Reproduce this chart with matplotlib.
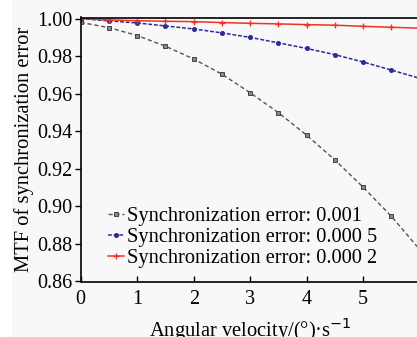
import matplotlib
matplotlib.use("Agg")
import matplotlib.pyplot as plt
from matplotlib.patches import Rectangle

velocity = [0, 0.5, 1, 1.5, 2, 2.5, 3, 3.5, 4, 4.5, 5, 5.5, 6]
mtf_001 = [0.998, 0.9952, 0.991, 0.9853, 0.9785, 0.9704, 0.9605, 0.9499, 0.9379, 0.9247, 0.9102, 0.8947, 0.877]
mtf_0005 = [1.0, 0.9988, 0.9977, 0.9961, 0.9945, 0.9924, 0.990, 0.9871, 0.9841, 0.9808, 0.9769, 0.9726, 0.9682]
mtf_0002 = [1.0, 0.9993, 0.9989, 0.9986, 0.9984, 0.9979, 0.9975, 0.9972, 0.9968, 0.9965, 0.9959, 0.9954, 0.9949]
labels = ["Synchronization error: 0.001",
          "Synchronization error: 0.000 5",
          "Synchronization error: 0.000 2"]
xticks = [0, 1, 2, 3, 4, 5]
yticks = [0.86, 0.88, 0.90, 0.92, 0.94, 0.96, 0.98, 1.00]

plt.rcParams['font.family'] = ['Liberation Serif', 'DejaVu Serif']
W, H = 417, 337
fig = plt.figure(figsize=(W / 100, H / 100), dpi=100, facecolor='#f8f8f8')
fig.patches.append(Rectangle((0, 0), 12 / W, 1, transform=fig.transFigure,
                             facecolor='white', edgecolor='none', zorder=0))

x0, x1 = 80.7, 80.7 + 6 * 56.5
y_top, y_bot = 17.5, 281.5
ax = fig.add_axes([x0 / W, 1 - y_bot / H, (x1 - x0) / W, (y_bot - y_top) / H])
ax.set_facecolor('#f8f8f8')

ax.plot(velocity, mtf_001, color='#555555', ls=(0, (3, 2)), lw=1.0,
        marker='s', ms=3.2, mfc='#888888', mec='#444444', mew=0.7, label=labels[0])
ax.plot(velocity, mtf_0005, color='#2b2b9a', ls=(0, (2.5, 1.2)), lw=1.1,
        marker='o', ms=2.6, mfc='#2b2b9a', mec='#2b2b9a', label=labels[1])
ax.plot(velocity, mtf_0002, color='#ee3322', ls='-', lw=1.1,
        marker='+', ms=4, mew=1.0, mec='#ee3322', label=labels[2])

ax.set_xlim(0, 6)
ax.set_ylim(0.86, 1.0006)
ax.set_xticks(xticks)
ax.set_yticks(yticks)
ax.set_yticklabels([f"{v:.2f}" for v in yticks])
ax.tick_params(axis='x', direction='in', length=4, width=1, labelsize=14.5, pad=6)
ax.tick_params(axis='y', direction='out', length=4, width=1, labelsize=14.5, pad=2)
for s in ['left', 'bottom', 'top']:
    ax.spines[s].set_linewidth(1.2)
ax.spines['right'].set_visible(False)

ax.set_xlabel("Angular velocity/(°)·s$^{-1}$", fontsize=14.8, labelpad=5)
ax.set_ylabel("MTF of synchronization error", fontsize=14.8, labelpad=2)

ax.legend(loc='lower left', bbox_to_anchor=(0.055, 0.02), frameon=False,
          fontsize=14.7, handlelength=0.8, handletextpad=0.15, labelspacing=0.08,
          borderaxespad=0)

fig.savefig("out.png", dpi=100, facecolor=fig.get_facecolor())
